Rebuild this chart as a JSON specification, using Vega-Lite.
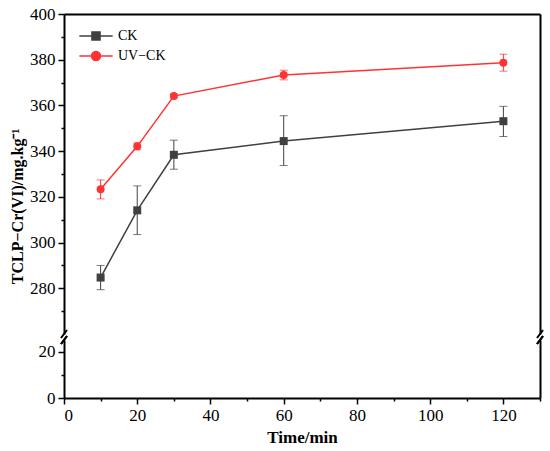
{
  "$schema": "https://vega.github.io/schema/vega-lite/v6.json",
  "padding": {"left": 9, "top": 5, "right": 5, "bottom": 5},
  "spacing": 6,
  "bounds": "flush",
  "config": {
    "view": {"stroke": null},
    "axis": {
      "grid": false,
      "domainColor": "black",
      "domainWidth": 2,
      "tickColor": "black",
      "tickWidth": 1.5,
      "labelColor": "black",
      "labelFont": "Liberation Serif",
      "labelFontSize": 17,
      "labelPadding": 3,
      "titleColor": "black",
      "titleFont": "Liberation Serif",
      "titleFontSize": 17,
      "titleFontWeight": "bold"
    }
  },
  "resolve": {"scale": {"y": "independent", "color": "independent"}, "legend": {"color": "independent"}},
  "vconcat": [
    {
      "width": 476,
      "height": 320,
      "data": {
        "values": [
          {"time": 10, "series": "CK", "val": 284.7, "lo": 279.4, "hi": 290.0},
          {"time": 20, "series": "CK", "val": 314.1, "lo": 303.5, "hi": 324.8},
          {"time": 30, "series": "CK", "val": 338.4, "lo": 332.1, "hi": 344.8},
          {"time": 60, "series": "CK", "val": 344.4, "lo": 333.7, "hi": 355.5},
          {"time": 120, "series": "CK", "val": 353.1, "lo": 346.4, "hi": 359.6},
          {"time": 10, "series": "UV-CK", "val": 323.3, "lo": 319.1, "hi": 327.4},
          {"time": 20, "series": "UV-CK", "val": 342.1, "lo": 340.6, "hi": 343.6},
          {"time": 30, "series": "UV-CK", "val": 364.1, "lo": 363.3, "hi": 364.9},
          {"time": 60, "series": "UV-CK", "val": 373.3, "lo": 371.2, "hi": 375.4},
          {"time": 120, "series": "UV-CK", "val": 378.7, "lo": 375.0, "hi": 382.4}
        ]
      },
      "layer": [
        {
          "mark": {"type": "line", "strokeWidth": 1.5},
          "encoding": {
            "x": {
              "field": "time", "type": "quantitative",
              "scale": {"domain": [0, 130], "nice": false},
              "axis": {"orient": "top", "labels": false, "ticks": false, "title": null}
            },
            "y": {
              "field": "val", "type": "quantitative",
              "scale": {"domain": [260, 400], "nice": false, "zero": false},
              "axis": {
                "orient": "left",
                "values": [270, 280, 290, 300, 310, 320, 330, 340, 350, 360, 370, 380, 390, 400],
                "labelExpr": "datum.value % 20 === 0 ? datum.label : ''",
                "tickSize": {"condition": {"test": "datum.value % 20 !== 0", "value": 3}, "value": 6},
                "title": "TCLP−Cr(VI)/mg.kg⁻¹",
                "titleFontSize": 16,
                "titleY": 192
              }
            },
            "color": {
              "field": "series", "type": "nominal",
              "scale": {"domain": ["CK", "UV-CK"], "range": ["#404040", "#ff3333"]},
              "legend": {
                "orient": "none",
                "legendX": 25,
                "legendY": 15,
                "title": null,
                "symbolSize": 81,
                "symbolStrokeWidth": 1.5,
                "labelOffset": 15,
                "rowPadding": 4,
                "labelFont": "Liberation Serif",
                "labelFontSize": 14,
                "labelColor": "black",
                "labelExpr": "datum.label === 'UV-CK' ? 'UV−CK' : datum.label",
                "encode": {
                  "symbols": {
                    "update": {
                      "shape": {"signal": "datum.value === 'CK' ? 'M-3.7,0H3.7M-0.9,-0.9H0.9V0.9H-0.9Z' : 'M-3.7,0H3.7M1,0A1,1,0,1,1,-1,0A1,1,0,1,1,1,0Z'"},
                      "fill": {"signal": "datum.value === 'CK' ? '#404040' : '#ff3333'"},
                      "stroke": {"signal": "datum.value === 'CK' ? '#404040' : '#ff3333'"},
                      "opacity": {"value": 1}
                    }
                  }
                }
              }
            }
          }
        },
        {
          "mark": {"type": "errorbar", "ticks": {"size": 8}},
          "encoding": {
            "x": {"field": "time", "type": "quantitative", "axis": null},
            "y": {"field": "lo", "type": "quantitative", "axis": null},
            "y2": {"field": "hi"},
            "color": {"field": "series", "type": "nominal"}
          }
        },
        {
          "mark": {"type": "point", "filled": true, "size": 64, "opacity": 1},
          "encoding": {
            "x": {"field": "time", "type": "quantitative", "axis": null},
            "y": {"field": "val", "type": "quantitative", "axis": null},
            "color": {"field": "series", "type": "nominal"},
            "shape": {
              "field": "series", "type": "nominal",
              "scale": {"domain": ["CK", "UV-CK"], "range": ["square", "circle"]},
              "legend": null
            }
          }
        },
        {
          "data": {"values": [{"edge": 0}, {"edge": 130}]},
          "mark": {"type": "rule", "color": "black", "strokeWidth": 2, "xOffset": -3, "x2Offset": 3, "yOffset": 4, "y2Offset": -4},
          "encoding": {
            "x": {"field": "edge", "type": "quantitative", "axis": null},
            "x2": {"field": "edge"},
            "y": {"datum": 260, "type": "quantitative", "axis": {"orient": "right", "labels": false, "ticks": false, "title": null}},
            "y2": {"datum": 260}
          }
        }
      ],
      "resolve": {"axis": {"x": "independent", "y": "independent"}}
    },
    {
      "width": 476,
      "height": 58,
      "data": {"values": [{"edge": 0}, {"edge": 130}]},
      "layer": [
        {
          "mark": {"type": "rule", "color": "black", "strokeWidth": 2, "xOffset": -3, "x2Offset": 3, "yOffset": 4, "y2Offset": -4},
          "encoding": {
            "x": {
              "field": "edge", "type": "quantitative",
              "scale": {"domain": [0, 130], "nice": false},
              "axis": {
                "orient": "bottom",
                "values": [0, 10, 20, 30, 40, 50, 60, 70, 80, 90, 100, 110, 120, 130],
                "labelExpr": "datum.value % 20 === 0 ? datum.label : ''",
                "tickSize": {"condition": {"test": "datum.value % 20 !== 0", "value": 3}, "value": 6},
                "title": "Time/min",
                "titlePadding": 6
              }
            },
            "x2": {"field": "edge"},
            "y": {
              "datum": 25, "type": "quantitative",
              "scale": {"domain": [0, 25], "nice": false, "zero": false},
              "axis": {
                "orient": "left",
                "values": [0, 10, 20],
                "labelExpr": "datum.value % 20 === 0 ? datum.label : ''",
                "tickSize": {"condition": {"test": "datum.value % 20 !== 0", "value": 3}, "value": 6},
                "title": null
              }
            },
            "y2": {"datum": 25}
          }
        },
        {
          "mark": {"type": "rule", "color": "black", "strokeWidth": 2, "xOffset": -3, "x2Offset": 3, "yOffset": 4, "y2Offset": -4},
          "encoding": {
            "x": {"field": "edge", "type": "quantitative", "axis": null},
            "x2": {"field": "edge"},
            "y": {"datum": 25, "type": "quantitative", "axis": {"orient": "right", "labels": false, "ticks": false, "title": null}},
            "y2": {"datum": 25}
          }
        }
      ],
      "resolve": {"axis": {"x": "independent", "y": "independent"}}
    }
  ]
}
